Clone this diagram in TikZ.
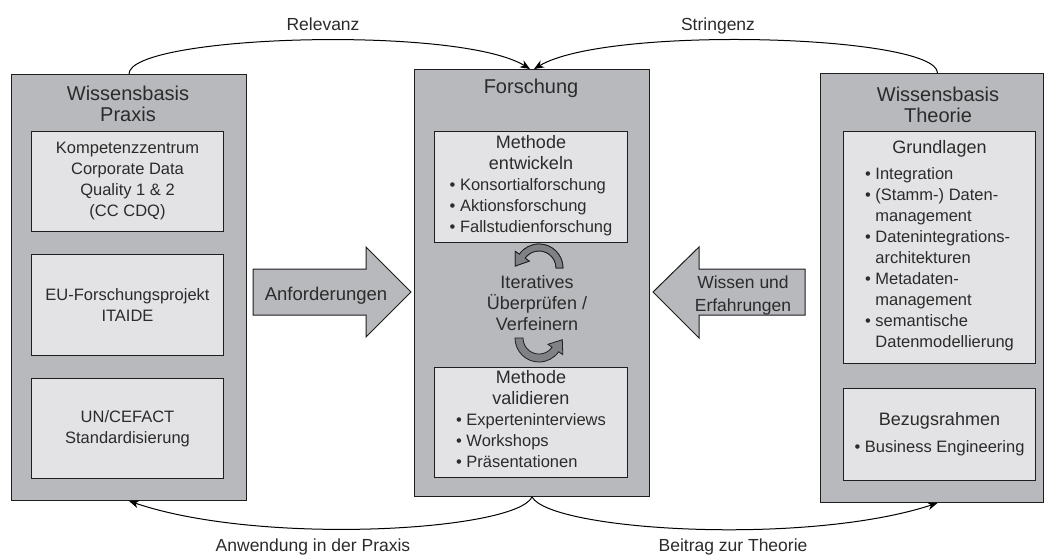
\documentclass[tikz,border=0pt]{standalone}
\usepackage{fontspec}
\setmainfont{Liberation Sans}
\usetikzlibrary{arrows.meta}

\definecolor{panelgray}{HTML}{B8B9BD}
\definecolor{boxgray}{HTML}{E3E3E5}
\definecolor{turngray}{HTML}{808184}
\definecolor{ink}{HTML}{2B2B2B}
\definecolor{edge}{HTML}{1E1E1E}

\newcommand{\TitleFont}{\fontsize{20}{21.5}\selectfont}
\newcommand{\SubFont}{\fontsize{18}{21}\selectfont}
\newcommand{\BodyFont}{\fontsize{16.5}{21}\selectfont}
\newcommand{\LabelFont}{\fontsize{17.5}{23}\selectfont}
\newcommand{\ArrowFont}{\fontsize{18.5}{23}\selectfont}

\begin{document}
\begin{tikzpicture}[x=1pt,y=-1pt,
  panel/.style={draw=edge, fill=panelgray, line width=1pt, anchor=north west, inner sep=0pt},
  inbox/.style={draw=edge, fill=boxgray, line width=1pt, anchor=north west, inner sep=0pt,
                align=center, text=ink, font=\BodyFont},
  txt/.style={text=ink, inner sep=0pt, align=center},
  link/.style={draw=black, line width=1pt, -{Stealth[length=10pt,width=8pt]}},
  blockarrow/.style={draw=edge, fill=panelgray, line width=1pt, line join=miter},
  turnarrow/.style={draw=edge, fill=turngray, line width=0.8pt, line join=miter},
]
\useasboundingbox (0,0) rectangle (1044,557);

% three knowledge panels
\node[panel, minimum width=235pt, minimum height=426pt] (praxis) at (11,74) {};
\node[panel, minimum width=235pt, minimum height=427pt] (forschung) at (414,69) {};
\node[panel, minimum width=223pt, minimum height=429pt] (theorie) at (820,73) {};

% panel titles
\node[txt, font=\TitleFont] (praxistitle) at (128,104) {Wissensbasis\\Praxis};
\node[txt, font=\TitleFont] (forschungtitle) at (531,88) {Forschung};
\node[txt, font=\TitleFont] (theorietitle) at (938,105) {Wissensbasis\\Theorie};

% practice side
\node[inbox, minimum width=192pt, minimum height=100pt] (cdq) at (31,131)
  {Kompetenzzentrum\\Corporate Data\\Quality 1 \& 2\\(CC CDQ)};
\node[inbox, minimum width=192pt, minimum height=101pt] (itaide) at (31,254)
  {EU-Forschungsprojekt\\ITAIDE};
\node[inbox, minimum width=192pt, minimum height=100pt] (uncefact) at (31,378)
  {UN/CEFACT\\Standardisierung};

% research core
\node[inbox, minimum width=193pt, minimum height=111pt] (entwickeln) at (434,131)
  {\SubFont Methode\\\SubFont entwickeln\\\BodyFont
   \begin{tabular}[t]{@{}l@{}}• Konsortialforschung\\• Aktionsforschung\\• Fallstudienforschung\end{tabular}};
\node[inbox, minimum width=193pt, minimum height=110pt] (validieren) at (434,367)
  {\SubFont Methode\\\SubFont validieren\\\BodyFont
   \begin{tabular}[t]{@{}l@{}}• Experteninterviews\\• Workshops\\• Präsentationen\end{tabular}};

\node[txt, font=\SubFont] (iterativ) at (537,303) {Iteratives\\Überprüfen /\\Verfeinern};

% turning arrows around the iteration label
\fill[turnarrow] (563,268) arc[start angle=0, end angle=-145, radius=24]
  -- (515.2,251.4) -- (515.3,266.0) -- (529.2,261.1) -- (525.1,258.2)
  arc[start angle=-145, end angle=0, radius=17] -- cycle;
\draw[turnarrow] (563,268) arc[start angle=0, end angle=-145, radius=24]
  -- (515.2,251.4) -- (515.3,266.0) -- (529.2,261.1) -- (525.1,258.2)
  arc[start angle=-145, end angle=0, radius=17] -- cycle;
\draw[turnarrow] (515,338) arc[start angle=180, end angle=35, radius=24]
  -- (562.8,354.6) -- (562.3,339.7) -- (548.0,344.3) -- (552.1,347.2)
  arc[start angle=35, end angle=180, radius=16] -- cycle;

% theory side
\node[inbox, minimum width=192pt, minimum height=232pt] (grundlagen) at (843,131)
  {\SubFont Grundlagen\\[5pt]\BodyFont
   \begin{tabular}[t]{@{}l@{}}• Integration\\• (Stamm-) Daten-\\\phantom{• }management\\
   • Datenintegrations-\\\phantom{• }architekturen\\• Metadaten-\\\phantom{• }management\\
   • semantische\\\phantom{• }Datenmodellierung\end{tabular}};
\node[inbox, minimum width=192pt, minimum height=92pt] (bezug) at (843,388)
  {\SubFont Bezugsrahmen\\[6pt]\BodyFont • Business Engineering};

% block arrows feeding the research core
\draw[blockarrow] (253,269) -- (366,269) -- (366,247) -- (411,292) -- (366,337)
  -- (366,315) -- (253,315) -- cycle;
\node[txt, font=\ArrowFont, anchor=base] (anforderungen) at (326,300) {Anforderungen};
\draw[blockarrow] (653,292) -- (699,247) -- (699,269) -- (805,269) -- (805,315)
  -- (699,315) -- (699,338) -- cycle;
\node[txt, font=\LabelFont] (wissen) at (743,295) {Wissen und\\Erfahrungen};

% relevance and rigour cycles
\draw[link] (praxis.north) .. controls +(0,-39) and +(-71.5,-44) .. ([xshift=-2pt]forschung.north);
\draw[link] ([xshift=5.5pt]theorie.north) .. controls +(0,-38) and +(73.5,-44) .. ([xshift=2pt]forschung.north);
\draw[link] (forschung.south) .. controls +(-16.5,34) and +(131.5,45) .. (praxis.south);
\draw[link] (forschung.south) .. controls +(19.5,34) and +(-131,43) .. ([xshift=5.5pt]theorie.south);

\node[txt, font=\LabelFont, anchor=base] (relevanz) at (323,30) {Relevanz};
\node[txt, font=\LabelFont, anchor=base] (stringenz) at (718,30) {Stringenz};
\node[txt, font=\LabelFont, anchor=base] (anwendung) at (313,551) {Anwendung in der Praxis};
\node[txt, font=\LabelFont, anchor=base] (beitrag) at (733,551) {Beitrag zur Theorie};
\end{tikzpicture}
\end{document}
